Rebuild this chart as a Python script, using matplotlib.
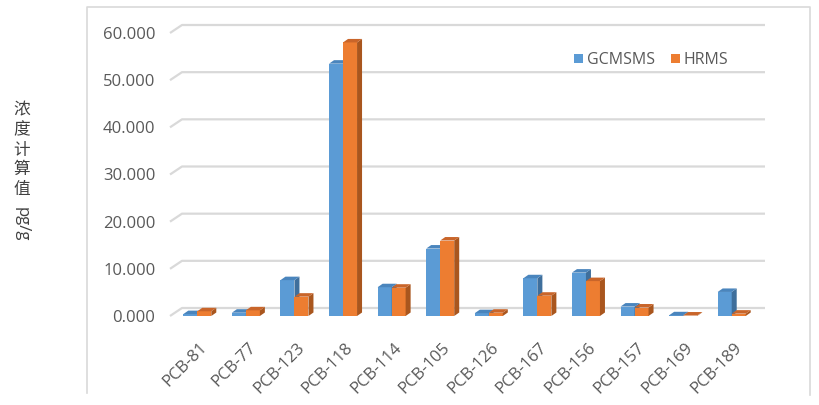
import numpy as np
import matplotlib
matplotlib.use("Agg")
import matplotlib.pyplot as plt
from matplotlib.patches import Polygon, Rectangle, Patch

plt.rcParams['font.family'] = ['Open Sans', 'Noto Sans CJK SC', 'DejaVu Sans']

categories = ["PCB-81", "PCB-77", "PCB-123", "PCB-118", "PCB-114", "PCB-105",
              "PCB-126", "PCB-167", "PCB-156", "PCB-157", "PCB-169", "PCB-189"]
gcmsms = [0.4, 0.7, 7.6, 53.5, 6.1, 14.3, 0.6, 8.0, 9.2, 2.0, 0.15, 5.1]
hrms = [1.0, 1.2, 4.1, 58.0, 6.0, 16.0, 0.7, 4.3, 7.4, 1.8, 0.1, 0.5]
yticks = [0, 10, 20, 30, 40, 50, 60]

W, H = 820, 405
fig = plt.figure(figsize=(W / 100, H / 100), dpi=100)

# front plane of the plot area in pixels
left_px, right_px, bottom_px, top_px = 170, 753, 316, 33
ax = fig.add_axes([left_px / W, 1 - bottom_px / H,
                   (right_px - left_px) / W, (bottom_px - top_px) / H])
ax.set_xlim(-0.5, len(categories) - 0.5)
ax.set_ylim(0, 60)
for s in ax.spines.values():
    s.set_visible(False)

px_x = (right_px - left_px) / len(categories)   # pixels per x unit
px_y = (bottom_px - top_px) / 60.0               # pixels per y unit

# floor / back wall offset and bar depth offset
fdx, fdy = 12 / px_x, 8 / px_y
bdx, bdy = 5 / px_x, 3.5 / px_y

grid_c = "#d9d9d9"
x0, x1 = -0.5, len(categories) - 0.5
for v in yticks:
    ax.plot([x0, x0 + fdx, x1 + fdx], [v, v + fdy, v + fdy], color=grid_c,
            lw=1.6, clip_on=False, zorder=1, solid_capstyle='butt')

colors = {
    "front": ["#5B9BD5", "#ED7D31"],
    "side": ["#3F6F9C", "#A9561E"],
    "top": ["#4A85BD", "#C9652A"],
}

bw = 14 / px_x
shift = 3 / px_x
x = np.arange(len(categories))
for i in range(len(categories)):
    for k, vals in enumerate([gcmsms, hrms]):
        xl = x[i] + shift - bw + k * bw
        xr = xl + bw
        h = vals[i]
        z = 3 + i * 2 + k * 0.5
        ax.add_patch(Rectangle((xl, 0), bw, h, facecolor=colors["front"][k],
                               edgecolor='none', zorder=z, clip_on=False))
        ax.add_patch(Polygon([(xr, 0), (xr + bdx, bdy), (xr + bdx, h + bdy), (xr, h)],
                             closed=True, facecolor=colors["side"][k],
                             edgecolor='none', zorder=z, clip_on=False))
        ax.add_patch(Polygon([(xl, h), (xr, h), (xr + bdx, h + bdy), (xl + bdx, h + bdy)],
                             closed=True, facecolor=colors["top"][k],
                             edgecolor='none', zorder=z, clip_on=False))

ax.set_yticks(yticks)
ax.set_yticklabels([f"{v:.3f}" for v in yticks], color="#595959", fontsize=12)
ax.tick_params(axis='y', length=0, pad=10.5)
ax.set_xticks(x + 0.1)
ax.set_xticklabels(categories, rotation=45, ha='right', rotation_mode='anchor',
                   color="#595959", fontsize=12)
ax.tick_params(axis='x', length=0, pad=17)

# legend
handles = [Patch(facecolor=colors["front"][0]), Patch(facecolor=colors["front"][1])]
fig.legend(handles, ["GCMSMS", "HRMS"], ncol=2, frameon=False,
           loc='center left', bbox_to_anchor=(566 / W, 1 - 60 / H),
           handlelength=0.55, handleheight=0.55, handletextpad=0.25,
           columnspacing=1.0, borderpad=0, fontsize=11.5, labelcolor="#595959")

# chart border
fig.add_artist(plt.Line2D([87 / W, 87 / W, 810 / W, 810 / W],
                          [1 - 393 / H, 1 - 7 / H, 1 - 7 / H, 1 - 395 / H],
                          color=grid_c, lw=1.2))

# y axis title: stacked CJK chars and rotated unit
fig.text(22 / W, 1 - 150 / H, "浓\n度\n计\n算\n值", ha='center', va='center',
         fontsize=12, color="#404040", linespacing=1.22,
         family=['Noto Sans CJK SC', 'DejaVu Sans'])
fig.text(22 / W, 1 - 224 / H, "pg/g", ha='center', va='center', rotation=270,
         fontsize=12, color="#404040")

fig.savefig("out.png", dpi=100, facecolor='white')
